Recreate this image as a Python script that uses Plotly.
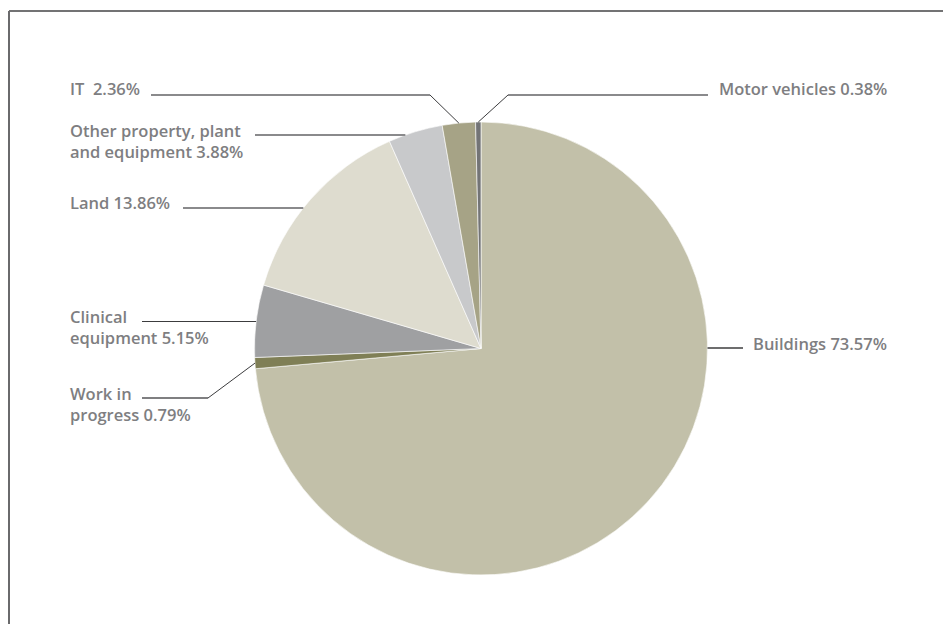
import math
import plotly.graph_objects as go

# ---- data ----
categories = ["Buildings", "Work in progress", "Clinical equipment", "Land",
              "Other property, plant and equipment", "IT", "Motor vehicles"]
shares = [73.57, 0.79, 5.15, 13.86, 3.88, 2.36, 0.38]
label_texts = ["Buildings 73.57%", "Work in<br>progress 0.79%", "Clinical<br>equipment 5.15%",
               "Land 13.86%", "Other property, plant<br>and equipment 3.88%", "IT  2.36%",
               "Motor vehicles 0.38%"]
colors = ["#c2c0a9", "#7f7f56", "#9fa0a2", "#dedccf", "#c8c9cb", "#a6a386", "#737476"]

W, H = 943, 624
CX, CY, R = 481.0, 348.5, 226.5
TEXT_COLOR = "#7e7e81"
FONT = "Open Sans"
FSIZE = 16.5


def px(x, y):
    return x / W, 1 - y / H


def slice_mid_point(i):
    total = sum(shares)
    start = sum(shares[:i]) / total * 360
    a = math.radians(start + shares[i] / total * 360 / 2)
    return CX + R * math.sin(a), CY - R * math.cos(a)


def edge_x_at(y, side):
    dx = math.sqrt(max(R * R - (CY - y) ** 2, 0))
    return CX + side * dx


fig = go.Figure(go.Pie(
    labels=categories, values=shares, sort=False, direction="clockwise", rotation=0,
    marker=dict(colors=colors, line=dict(color="white", width=0.6)),
    textinfo="none", hoverinfo="label+percent", showlegend=False,
    domain=dict(x=[(CX - R) / W, (CX + R) / W], y=[1 - (CY + R) / H, 1 - (CY - R) / H]),
))

shapes = []
annotations = []


def seg(x0, y0, x1, y1, color, width):
    a = px(x0, y0)
    b = px(x1, y1)
    shapes.append(dict(type="line", xref="paper", yref="paper", x0=a[0], y0=a[1],
                       x1=b[0], y1=b[1], line=dict(color=color, width=width)))


def label(i, x, y, xanchor="left"):
    p = px(x, y)
    annotations.append(dict(text=label_texts[i], x=p[0], y=p[1], xref="paper", yref="paper",
                            xanchor=xanchor, yanchor="middle", showarrow=False, align="left",
                            font=dict(family=FONT, size=FSIZE, color=TEXT_COLOR, weight=600)))

GRAY = "#8a8a8c"
DARK = "#3c3c3e"

# IT
label(5, 68, 89)
mx, my = slice_mid_point(5)
seg(151, 95, 430, 95, GRAY, 2)
seg(430, 95, mx, my, DARK, 1)
# Motor vehicles
label(6, 717, 89)
mx, my = slice_mid_point(6)
seg(mx, my, 508, 95, DARK, 1)
seg(508, 95, 708, 95, GRAY, 2)
# Other PPE
label(4, 68, 141)
seg(255, 135, edge_x_at(135, -1), 135, GRAY, 2)
# Land
label(3, 68, 203)
seg(183, 208, edge_x_at(208, -1), 208, GRAY, 2)
# Clinical
label(2, 68, 327)
seg(142, 321.5, edge_x_at(321.5, -1), 321.5, DARK, 1)
# Work in progress
label(1, 68, 404)
mx, my = slice_mid_point(1)
seg(142, 398, 208, 398, "#555557", 1.5)
seg(208, 398, mx, my, DARK, 1)
# Buildings
label(0, 751, 343)
seg(edge_x_at(348, 1), 348, 743, 348, DARK, 1.5)

# frame (top and left borders)
seg(9, 11, W, 11, "#444446", 1.5)
seg(9, 11, 9, H, "#6a6a6c", 2)

fig.update_layout(
    width=W, height=H, margin=dict(l=0, r=0, t=0, b=0),
    paper_bgcolor="white", plot_bgcolor="white",
    shapes=shapes, annotations=annotations,
)

fig.write_html("out.html")
